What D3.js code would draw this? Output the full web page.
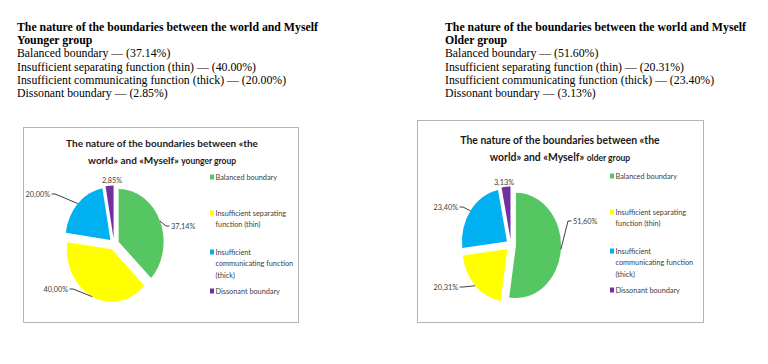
<!DOCTYPE html>
<html>
<head>
<meta charset="utf-8">
<script src="https://cdn.jsdelivr.net/npm/d3@7"></script>
<style>
  body { margin: 0; background: #fff; }
</style>
</head>
<body>
<div id="container"></div>
<script>
// size of the page
let w = 768;
let h = 364;

// data
let categories = ["Balanced boundary", "Insufficient separating function (thin)", "Insufficient communicating function (thick)", "Dissonant boundary"];
let youngerValues = [37.14, 40.00, 20.00, 2.85];
let olderValues = [51.60, 20.31, 23.40, 3.13];
let youngerLabels = ["37,14%", "40,00%", "20,00%", "2,85%"];
let olderLabels = ["51,60%", "20,31%", "23,40%", "3,13%"];
let legendLines = [["Balanced boundary"], ["Insufficient separating", "function (thin)"], ["Insufficient", "communicating function", "(thick)"], ["Dissonant boundary"]];
let colors = ["#56c662", "#ffff00", "#00b0f0", "#7030a0"];

let viz = d3.select("#container")
  .append("svg")
    .attr("width", w)
    .attr("height", h)
    .style("background-color", "white")
;

// text block above each chart
function drawHeader(x, group, values, seps){
  let g = viz.append("g").attr("transform", "translate(" + x + ",0)");
  let lines = [
    {t: "The nature of the boundaries between the world and Myself", b: true},
    {t: group, b: true}
  ];
  categories.forEach(function(c, i){
    lines.push({t: c + seps[i] + "— (" + values[i].toFixed(2) + "%)", b: false});
  });
  g.selectAll("text").data(lines).enter()
    .append("text")
      .attr("x", 0)
      .attr("y", function(d, i){ return 31 + i * 13.2; })
      .text(function(d){ return d.t; })
      .style("font-family", "'Liberation Serif', 'Times New Roman', serif")
      .style("font-size", "11.8px")
      .style("font-weight", function(d){ return d.b ? "bold" : "normal"; })
      .attr("fill", "#000");
}

drawHeader(17, "Younger group", youngerValues, [" ", "  ", " ", " "]);
drawHeader(445, "Older group", olderValues, [" ", " ", " ", " "]);

// one framed pie chart
function drawChart(o){
  let g = viz.append("g");
  g.append("rect")
    .attr("x", o.box[0] + 0.5).attr("y", o.box[1] + 0.5)
    .attr("width", o.box[2]).attr("height", o.box[3])
    .attr("fill", "white").attr("stroke", "#b4b4b4").attr("stroke-width", 1);

  // title
  let title = g.append("text")
    .attr("text-anchor", "middle")
    .style("font-family", "Lato, 'Open Sans', sans-serif")
    .style("font-weight", "bold")
    .attr("fill", "#1a1a1a");
  title.append("tspan").attr("x", o.titleX).attr("y", o.titleY)
    .style("font-size", o.titleSize + "px").text("The nature of the boundaries between «the");
  let t2 = title.append("tspan").attr("x", o.titleX).attr("y", o.titleY + 17);
  t2.append("tspan").style("font-size", o.titleSize + "px").text("world» and «Myself» ");
  t2.append("tspan").style("font-size", "8.5px").text(o.sub);

  // pie, squeezed like the reference image
  let r = 45, ex = 5, k = 1.17;
  let pie = d3.pie().sort(null).value(function(d){ return d; });
  let arcs = pie(o.values);
  let arc = d3.arc().innerRadius(0).outerRadius(r);
  let pg = g.append("g").attr("transform", "translate(" + o.cx + "," + o.cy + ") scale(1," + k + ")");
  pg.selectAll("path").data(arcs).enter()
    .append("path")
      .attr("d", arc)
      .attr("fill", function(d, i){ return colors[i]; })
      .attr("transform", function(d){
        let a = (d.startAngle + d.endAngle) / 2;
        return "translate(" + (Math.sin(a) * ex) + "," + (-Math.cos(a) * ex) + ")";
      });

  // data labels with leaders
  arcs.forEach(function(d, i){
    let a = (d.startAngle + d.endAngle) / 2;
    let p = o.labelPos[i];
    let lx = o.cx + p[0], ly = o.cy + p[1];
    if (p[2] != "middle") {
      let sx = o.cx + Math.sin(a) * (r + ex);
      let sy = o.cy - Math.cos(a) * (r + ex) * k;
      let dir = p[2] == "start" ? -1 : 1;
      g.append("polyline")
        .attr("points", [[sx, sy], [lx + dir * 5, ly], [lx + dir * 1.5, ly]].join(" "))
        .attr("fill", "none").attr("stroke", "#404040").attr("stroke-width", 1);
    }
    g.append("text")
      .attr("x", lx).attr("y", ly + 2.5)
      .attr("text-anchor", p[2])
      .text(o.labels[i])
      .style("font-family", "Lato, 'Open Sans', sans-serif")
      .style("font-size", "7.3px")
      .attr("fill", "#404040");
  });

  // legend
  let lg = g.append("g").attr("transform", "translate(" + o.legX + "," + o.legY + ")");
  let itemY = [0, 36, 75, 114];
  legendLines.forEach(function(lines, i){
    lg.append("rect")
      .attr("x", 0).attr("y", itemY[i] - 2.5)
      .attr("width", 4).attr("height", 5)
      .attr("fill", colors[i]);
    lines.forEach(function(t, j){
      lg.append("text")
        .attr("x", 5.5).attr("y", itemY[i] + j * 11.8 + 2.5)
        .text(t)
        .style("font-family", "Lato, 'Open Sans', sans-serif")
        .style("font-size", "7.3px")
        .attr("fill", "#404040");
    });
  });
}

drawChart({
  box: [23, 127, 275, 195],
  titleX: 162, titleY: 147, titleSize: 10, sub: "younger group",
  cx: 114, cy: 244,
  values: youngerValues, labels: youngerLabels,
  labelPos: [[57, -18, "start"], [-46, 45, "end"], [-64, -50, "end"], [-2, -64, "middle"]],
  legX: 210, legY: 177
});

drawChart({
  box: [417, 120, 286, 202],
  titleX: 560, titleY: 144, titleSize: 10.4, sub: "older group",
  cx: 511, cy: 245,
  values: olderValues, labels: olderLabels,
  labelPos: [[62, -24, "start"], [-53, 42, "end"], [-53, -38, "end"], [-7, -63, "middle"]],
  legX: 610, legY: 176
});
</script>
</body>
</html>
